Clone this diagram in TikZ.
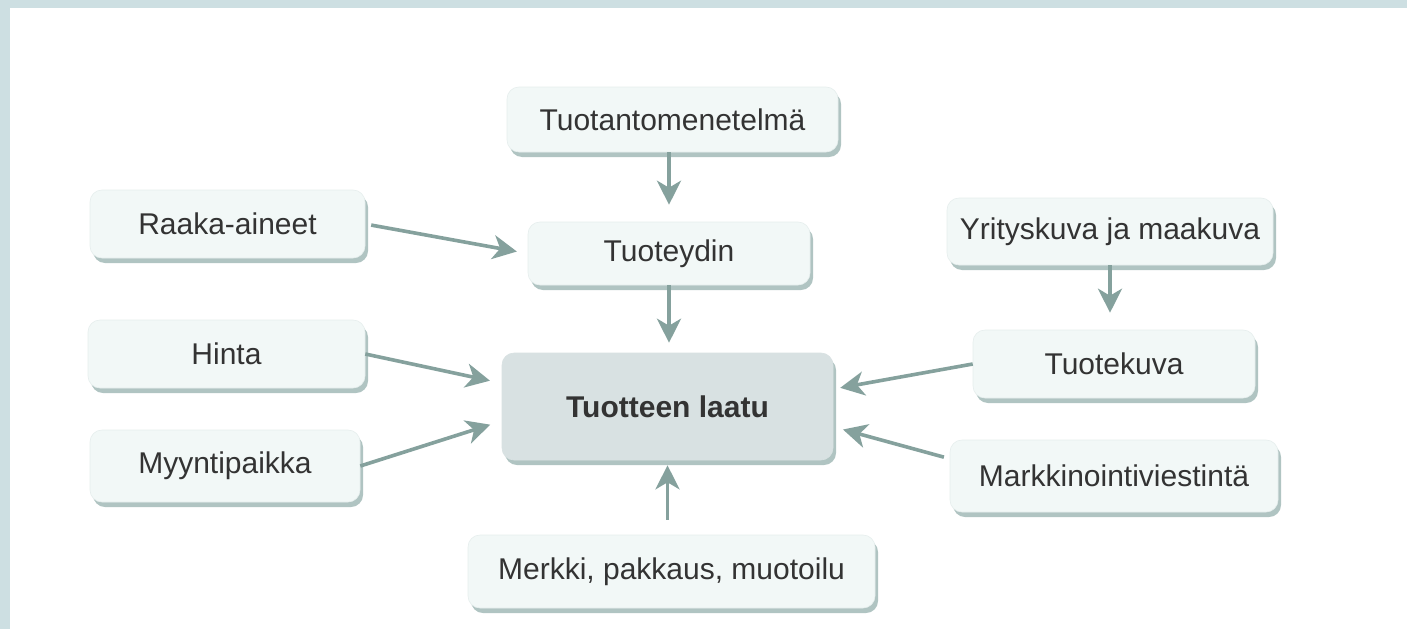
\documentclass[tikz,border=0pt]{standalone}
\usepackage{fontspec}
\setmainfont{Liberation Sans}
\usetikzlibrary{arrows.meta,shadows}
\definecolor{framec}{HTML}{CDDFE2}
\definecolor{boxfill}{HTML}{F2F8F7}
\definecolor{boxedge}{HTML}{E6EEED}
\definecolor{shadowc}{HTML}{9DB6B3}
\definecolor{arrowc}{HTML}{85A19D}
\definecolor{centerfill}{HTML}{D8E1E2}
\definecolor{textc}{HTML}{333333}
\begin{document}
\begin{tikzpicture}[x=1pt,y=-1pt,
  box/.style={rounded corners=12pt, fill=boxfill, draw=boxedge, line width=0.6pt,
    inner sep=0pt, text=textc, font=\fontsize{30}{36}\selectfont,
    drop shadow={shadow xshift=3pt, shadow yshift=-5pt, fill=shadowc, opacity=0.8}},
  centerbox/.style={box, fill=centerfill, draw=centerfill, font=\bfseries\fontsize{30}{36}\selectfont},
  conn/.style={draw=arrowc, line width=3.6pt, -{Stealth[length=24pt,width=24pt,inset=7pt]}}
]
\useasboundingbox (0,0) rectangle (1407,629);
\fill[white] (0,0) rectangle (1407,629);
\fill[framec] (0,0) rectangle (1407,8);
\fill[framec] (0,0) rectangle (10,629);

\node[box, minimum width=331pt, minimum height=65pt] (prod) at (672.5,119.5) {Tuotantomenetelmä};
\node[box, minimum width=282pt, minimum height=63pt] (core) at (669,253.5) {Tuoteydin};
\node[box, minimum width=275pt, minimum height=68pt] (raw) at (227.5,224) {Raaka-aineet};
\node[box, minimum width=277pt, minimum height=68pt] (price) at (226.5,354) {Hinta};
\node[box, minimum width=270pt, minimum height=72pt] (place) at (225,466) {Myyntipaikka};
\node[centerbox, minimum width=331pt, minimum height=107pt] (quality) at (667.5,406.5) {Tuotteen laatu};
\node[box, minimum width=407pt, minimum height=73pt] (brand) at (671.5,571.5) {Merkki, pakkaus, muotoilu};
\node[box, minimum width=326pt, minimum height=67pt] (corpimg) at (1110,231.5) {Yrityskuva ja maakuva};
\node[box, minimum width=282pt, minimum height=68pt] (prodimg) at (1114,364) {Tuotekuva};
\node[box, minimum width=328pt, minimum height=72pt] (mark) at (1114,476) {Markkinointiviestintä};

\draw[conn, shorten >=17pt] (core.north |- prod.south) -- (core.north);
\draw[conn, shorten >=10pt] (core.south) -- (core.south |- quality.north);
\draw[conn, shorten <=6pt, shorten >=11pt] (raw.east) -- (core.west);
\draw[conn, shorten >=12pt] (price.east) -- (quality.172.6);
\draw[conn, shorten >=12pt] (place.east) -- (quality.185.7);
\draw[conn, shorten >=17pt] (corpimg.south) -- (corpimg.south |- prodimg.north);
\draw[conn, shorten >=7pt] (prodimg.west) -- (quality.6.7);
\draw[conn, shorten <=6pt, shorten >=10pt] (mark.174.4) -- (quality.353.6);
\draw[conn, shorten <=15pt, shorten >=5pt] (brand.north -| quality.south) -- (quality.south);
\end{tikzpicture}
\end{document}
